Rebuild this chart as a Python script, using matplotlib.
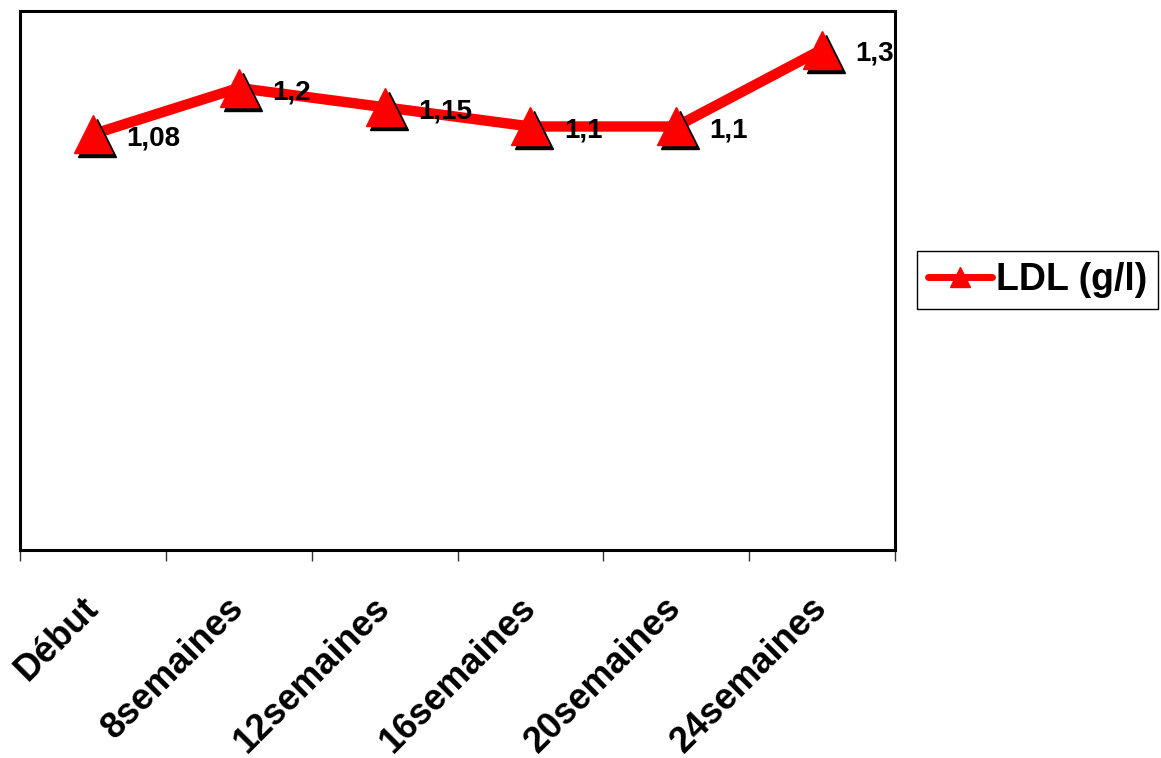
import matplotlib.pyplot as plt
from matplotlib.lines import Line2D
from matplotlib.transforms import offset_copy
import numpy as np

plt.rcParams['font.family'] = ['Liberation Sans', 'DejaVu Sans']
plt.rcParams['font.weight'] = 'bold'

# LDL over the follow-up period
periods = ["Début", "8semaines", "12semaines", "16semaines", "20semaines", "24semaines"]
ldl = [1.08, 1.2, 1.15, 1.1, 1.1, 1.3]
value_labels = ["1,08", "1,2", "1,15", "1,1", "1,1", "1,3"]

fig = plt.figure(figsize=(11.61, 7.58), dpi=100)
ax = fig.add_axes([20 / 1161, 1 - 550 / 758, 875 / 1161, 539 / 758])

x = np.arange(len(periods))

# line, then shadowed triangle markers on top
ax.plot(x, ldl, color='red', lw=7.5, solid_capstyle='round', zorder=2)
shadow = offset_copy(ax.transData, fig=fig, x=4, y=-4, units='dots')
ax.plot(x, ldl, ls='none', marker='^', ms=27, color='black', transform=shadow, zorder=3)
ax.plot(x, ldl, ls='none', marker='^', ms=27, color='red', zorder=4)

for xi, yi, txt in zip(x, ldl, value_labels):
    ax.annotate(txt, (xi, yi), xytext=(24, -3), textcoords='offset points',
                ha='left', va='center', fontsize=20, fontweight='bold', zorder=5)

ax.set_xlim(-0.5, len(periods) - 0.5)
ax.set_ylim(0, 1.4)

# boundary ticks between categories, labels centred on the points
ax.set_xticks(np.arange(-0.5, len(periods)), minor=False)
ax.set_xticklabels([])
ax.set_xticks(x, minor=True)
ax.set_xticklabels(periods, minor=True, rotation=45, ha='right', va='center',
                   rotation_mode='anchor', fontsize=26, fontweight='bold')
ax.tick_params(axis='x', which='major', direction='out', length=8, width=1, color='#333333')
ax.tick_params(axis='x', which='minor', length=0, pad=38)
ax.set_yticks([])

for sp in ax.spines.values():
    sp.set_linewidth(2.2)
    sp.set_color('black')

handle = Line2D([], [], color='red', lw=5, marker='^', ms=15, solid_capstyle='round')
leg = fig.legend([handle], ["LDL (g/l)"], loc='center left',
                 bbox_to_anchor=(917 / 1161, 1 - 280 / 758), borderaxespad=0,
                 prop={'size': 27, 'weight': 'bold'}, handlelength=1.7, handletextpad=0.1,
                 borderpad=0.3, fancybox=False, framealpha=1)
leg.get_frame().set_edgecolor('black')
leg.get_frame().set_linewidth(1)

fig.savefig('out.png', dpi=100)
